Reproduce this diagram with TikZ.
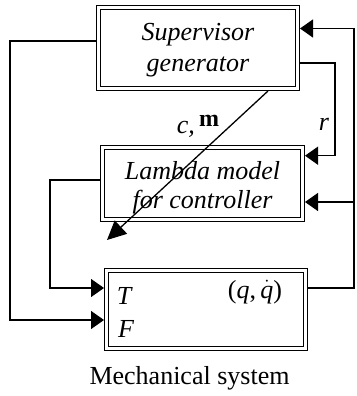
\documentclass[tikz,border=0pt]{standalone}
\usepackage{fontspec}
\setmainfont{Liberation Serif}
\usetikzlibrary{arrows.meta}
\tikzset{
  block/.style = {shape=rectangle, draw, double, double distance=2.7pt,
                  line width=1.3pt, outer sep=2.65pt, inner sep=0pt},
  btext/.style = {align=center, inner sep=0pt, font=\itshape\fontsize{26}{31}\selectfont},
  conn/.style  = {draw, line width=1.3pt},
  arr/.style   = {conn, -{Triangle[length=13pt,width=18pt]}},
  bigarr/.style = {conn, -{Triangle[length=19pt,width=18pt]}},
  lbl/.style   = {font=\itshape\fontsize{26}{30}\selectfont, inner sep=0pt}
}

\begin{document}
\begin{tikzpicture}[x=1pt, y=-1pt]
  \useasboundingbox (0,0) rectangle (356,396);
  % blocks
  \node [block, minimum width=198.7pt, minimum height=80.7pt] (sup) at (198,48) {};
  \node [btext] (suptext) at ([yshift=-2.5pt]sup.center) {Supervisor\\generator};
  \node [block, minimum width=199.7pt, minimum height=71.7pt] (lam) at (202.5,183.5) {};
  \node [btext, font=\itshape\fontsize{26}{29}\selectfont] (lamtext) at ([yshift=-4pt]lam.center)
    {Lambda model\\for controller};
  \node [block, minimum width=198.7pt, minimum height=77.7pt] (mech) at (206,309.5) {};
  \node [lbl] (T) at (124,295.5) {T};
  \node [lbl] (F) at (126,328.5) {F};
  \node [lbl, font=\fontsize{26}{30}\selectfont] (q) at (255,292) {(\textit{q},\,$\dot{\textit{q}}$)};
  \node [inner sep=0pt, font=\fontsize{26}{30}\selectfont] (title) at (189.5,378) {Mechanical system};
  \node [lbl] (r) at (324,124) {r};
  \node [lbl] (cm) at (198,126) {c,\,\raisebox{7pt}{\upshape\bfseries\fontsize{24}{24}\selectfont m}};
  % bus points
  \coordinate (lbus) at (10,200);
  \coordinate (lx) at (50,230);
  \coordinate (rbus) at (354,150);
  \coordinate (rx) at (335,110);
  \coordinate (cmtip) at (107,240);
  \coordinate (lamin) at ([yshift=-18.5pt]lam.east);
  % connectors
  \draw [arr] ([yshift=7pt]sup.west) -| (lbus) |- ([yshift=-10.5pt]mech.west);
  \draw [arr] ([yshift=3.5pt]lam.west) -| (lx) |- ([yshift=21.5pt]mech.west);
  \draw [arr] ([yshift=21.5pt]mech.east) -| (rbus) |- ([yshift=19.5pt]sup.east);
  \draw [arr] (rbus |- lamin) -- (lamin);
  \draw [arr] ([yshift=-15pt]sup.east) -| (rx) |- ([yshift=27.8pt]lam.east);
  \draw [bigarr] ([xshift=70pt]sup.south) -- (cmtip);
\end{tikzpicture}
\end{document}
